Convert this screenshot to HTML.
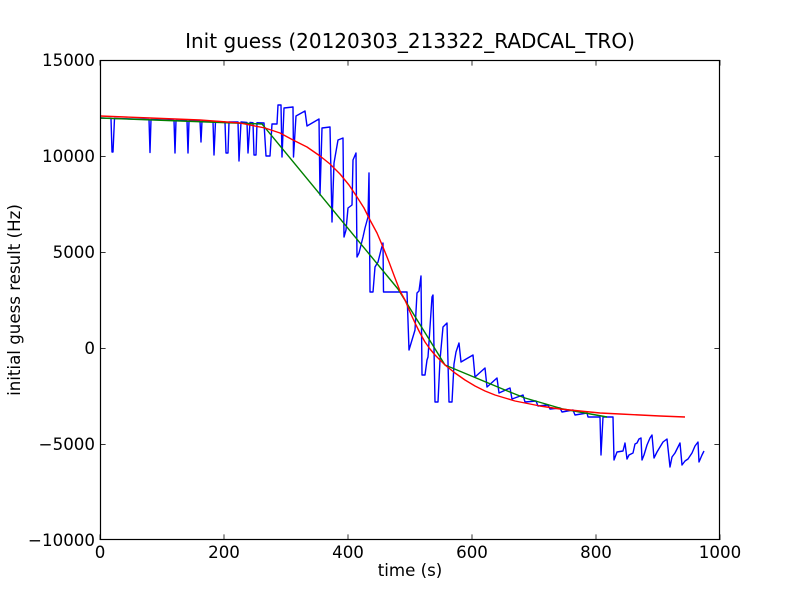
<!DOCTYPE html>
<html><head><meta charset="utf-8"><style>
html,body{margin:0;padding:0;background:#fff;}
svg{display:block;}
text{font-family:"DejaVu Sans","Liberation Sans",sans-serif;fill:#000;}
</style></head><body>
<svg width="800" height="600" viewBox="0 0 800 600" xmlns="http://www.w3.org/2000/svg">
<rect x="0" y="0" width="800" height="600" fill="#fff"/>
<g fill="none" stroke-linejoin="round" stroke-linecap="butt" stroke-width="1.4">
<polyline stroke="#0000ff" points="100,118 111,118.3 112,152 113,152 114.5,118.4 149,119.5 150,152.5 151,119.5 174,120.3 175,153 176,120.3 187,120.7 188,153 189,120.7 200,121 201,142 202,121 213,121.5 214,155 215.5,121.5 225,122 226,153 228,153 229,122 238,122 239,161 241,122 247,122.5 248,153 250,122.5 253,122.7 254,155 256,155 257,122.7 264,123 266,156 270,156 272,124 277,124 278,105 281,105 282,157 284,108 293,107 293.5,157 296,116 305,111 307,126 319,119 320,195 322,128 330,127 332,222 334,163 338,140 343,138 344,237 346,230 348,208 352,205 353,160 356,153 357,257 359,253 363,237 365,228 368,217 369,173 370,292 373,292 375,267 378,262 381,250 383,243 383.5,292 407,292 409,350 412,340 415,330 417,293 419,291 421,276 422,375 425,375 427,360 428,357 432,297 433,295 435,402 438,402 440,360 443,327 447,323 449,402 452,402 454,364 456,352 459,343 461,362 473,355 475,377 485,368 487,387 497,378 499,393 510,388 512,399 523,395 525,402 536,401 538,406 548,405 550,409 560,408 562,412 573,410 575,415 587,413 588,417 600,417 601,455 603,417 613,417 614,460 617,452 623,451 625,443 627,459 629,455 633,453 635,444 637,443 639,439 641,438 642,460 644,455 647,445 650,438 652,435 654,458 657,452 660,447 663,442 667,439 670,467 672,457 675,453 678,447 680,443 682,465 685,461 688,459 692,453 695,446 698,442 699,462 702,455 704,451"/>
<polyline stroke="#008000" points="100,118 262,124 398,289 445,365 475,377.5 505,390 525,398 563,409 607,417"/>
<polyline stroke="#ff0000" points="100,116 150,118 200,120 240,123 265,128 280,133 293,140 307,147 320,156 330,164 340,174 349,185 357,197 364,208 370,220 377,233 383,247 389,262 395,278 400,291 405,300 410,312 415,323 420,333 425,342 430,349 435,355 440,360 445,365 455,373 465,380 475,386 485,391 495,395 505,398 515,401 525,403 540,406 560,409 580,411 600,413 620,414 640,415 660,416 685,417"/>
</g>
<g stroke="#000" stroke-width="1" fill="none">
<rect x="100.5" y="60.5" width="619" height="479" stroke-width="1.2"/>
</g>
<g stroke="#000" stroke-width="0.8">
<line x1="100" y1="540" x2="100" y2="534.4"/><line x1="224" y1="540" x2="224" y2="534.4"/><line x1="348" y1="540" x2="348" y2="534.4"/><line x1="472" y1="540" x2="472" y2="534.4"/><line x1="596" y1="540" x2="596" y2="534.4"/><line x1="720" y1="540" x2="720" y2="534.4"/>
<line x1="100" y1="60" x2="100" y2="65.6"/><line x1="224" y1="60" x2="224" y2="65.6"/><line x1="348" y1="60" x2="348" y2="65.6"/><line x1="472" y1="60" x2="472" y2="65.6"/><line x1="596" y1="60" x2="596" y2="65.6"/><line x1="720" y1="60" x2="720" y2="65.6"/>
<line x1="100" y1="60.5" x2="105.6" y2="60.5"/><line x1="100" y1="156.5" x2="105.6" y2="156.5"/><line x1="100" y1="252.5" x2="105.6" y2="252.5"/><line x1="100" y1="348.5" x2="105.6" y2="348.5"/><line x1="100" y1="444.5" x2="105.6" y2="444.5"/><line x1="100" y1="539.5" x2="105.6" y2="539.5"/>
<line x1="714.4" y1="60.5" x2="720" y2="60.5"/><line x1="714.4" y1="156.5" x2="720" y2="156.5"/><line x1="714.4" y1="252.5" x2="720" y2="252.5"/><line x1="714.4" y1="348.5" x2="720" y2="348.5"/><line x1="714.4" y1="444.5" x2="720" y2="444.5"/><line x1="714.4" y1="539.5" x2="720" y2="539.5"/>
</g>
<g font-size="16.67px" text-anchor="middle">
<text x="100" y="558">0</text>
<text x="224" y="558">200</text>
<text x="348" y="558">400</text>
<text x="472" y="558">600</text>
<text x="596" y="558">800</text>
<text x="720" y="558">1000</text>
</g>
<g font-size="16.67px" text-anchor="end">
<text x="95" y="66">15000</text>
<text x="95" y="162">10000</text>
<text x="95" y="258">5000</text>
<text x="95" y="354">0</text>
<text x="95" y="450">−5000</text>
<text x="95" y="546">−10000</text>
</g>
<text x="410" y="48" font-size="20px" text-anchor="middle">Init guess (20120303_213322_RADCAL_TRO)</text>
<text x="410" y="576" font-size="16.67px" text-anchor="middle">time (s)</text>
<text x="0" y="0" font-size="16.67px" text-anchor="middle" transform="translate(20,300) rotate(-90)">initial guess result (Hz)</text>
</svg>
</body></html>
